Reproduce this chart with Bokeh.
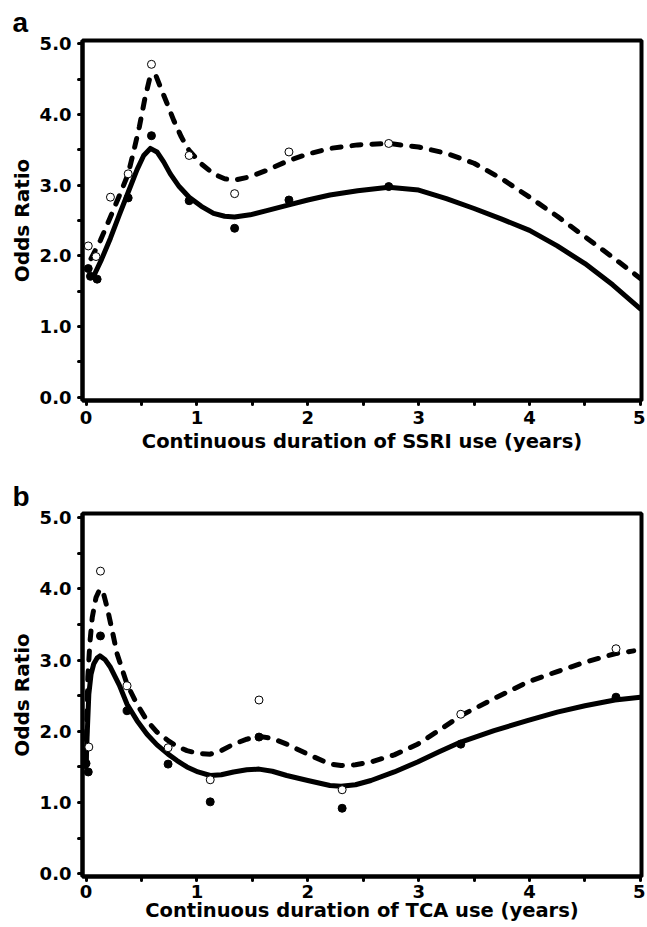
from bokeh.plotting import figure
from bokeh.layouts import column
from bokeh.models import Range1d, FixedTicker, PrintfTickFormatter, Title
from bokeh.embed import file_html
from bokeh.resources import INLINE

# ---------------- data ----------------
x_ticks = [0, 1, 2, 3, 4, 5]
x_minor = [0.5, 1.5, 2.5, 3.5, 4.5]
y_ticks = [0, 1, 2, 3, 4, 5]
y_minor = [0.5, 1.5, 2.5, 3.5, 4.5]

# Panel a: SSRI
a_open_x = [0.02, 0.09, 0.22, 0.38, 0.59, 0.93, 1.34, 1.83, 2.73]
a_open_y = [2.14, 1.99, 2.83, 3.16, 4.71, 3.42, 2.88, 3.47, 3.59]
a_fill_x = [0.02, 0.04, 0.10, 0.38, 0.59, 0.93, 1.34, 1.83, 2.73]
a_fill_y = [1.82, 1.71, 1.67, 2.82, 3.70, 2.78, 2.39, 2.79, 2.98]

a_solid_x = [0.03, 0.065, 0.14, 0.22, 0.30, 0.38, 0.46, 0.52, 0.58, 0.64, 0.70, 0.76,
             0.84, 0.93, 1.04, 1.15, 1.25, 1.34, 1.48, 1.63, 1.83, 2.0, 2.2, 2.45,
             2.73, 3.0, 3.25, 3.5, 3.75, 4.0, 4.25, 4.5, 4.75, 5.0]
a_solid_y = [1.72, 1.70, 1.95, 2.25, 2.58, 2.90, 3.22, 3.42, 3.52, 3.47, 3.33, 3.16,
             2.98, 2.83, 2.70, 2.60, 2.56, 2.55, 2.58, 2.64, 2.72, 2.79, 2.86, 2.92,
             2.97, 2.93, 2.81, 2.67, 2.52, 2.36, 2.14, 1.89, 1.59, 1.25]

a_dash_x = [0.045, 0.13, 0.22, 0.30, 0.38, 0.43, 0.48, 0.53, 0.58, 0.63, 0.67, 0.73,
            0.79, 0.86, 0.93, 1.04, 1.15, 1.25, 1.34, 1.48, 1.63, 1.83, 2.0, 2.2,
            2.45, 2.73, 3.0, 3.25, 3.5, 3.75, 4.0, 4.25, 4.5, 4.75, 5.0]
a_dash_y = [1.96, 2.22, 2.55, 2.85, 3.16, 3.48, 3.82, 4.22, 4.55, 4.55, 4.39, 4.16,
            3.92, 3.68, 3.49, 3.30, 3.16, 3.09, 3.07, 3.12, 3.21, 3.35, 3.44, 3.52,
            3.57, 3.59, 3.54, 3.45, 3.31, 3.09, 2.83, 2.56, 2.27, 1.98, 1.68]

# Panel b: TCA
b_open_x = [0.025, 0.13, 0.37, 0.74, 1.12, 1.56, 2.31, 3.38, 4.78]
b_open_y = [1.78, 4.25, 2.64, 1.77, 1.32, 2.44, 1.18, 2.24, 3.16]
b_fill_x = [0.0, 0.02, 0.13, 0.37, 0.74, 1.12, 1.56, 2.31, 3.38, 4.78]
b_fill_y = [1.55, 1.43, 3.34, 2.29, 1.54, 1.01, 1.92, 0.92, 1.82, 2.48]

b_solid_x = [0.0, 0.01, 0.025, 0.045, 0.07, 0.10, 0.125, 0.17, 0.22, 0.30, 0.37, 0.46,
             0.55, 0.64, 0.74, 0.82, 0.91, 1.01, 1.12, 1.22, 1.33, 1.45, 1.56, 1.68,
             1.81, 2.0, 2.2, 2.30, 2.43, 2.57, 2.78, 2.99, 3.18, 3.38, 3.68, 3.98,
             4.25, 4.5, 4.77, 5.0]
b_solid_y = [1.50, 1.95, 2.52, 2.80, 2.95, 3.03, 3.06, 3.01, 2.90, 2.65, 2.38, 2.15,
             1.96, 1.81, 1.68, 1.59, 1.50, 1.43, 1.38, 1.39, 1.43, 1.46, 1.47, 1.44,
             1.38, 1.31, 1.24, 1.23, 1.25, 1.31, 1.43, 1.57, 1.71, 1.85, 2.01, 2.15,
             2.27, 2.36, 2.44, 2.48]

b_dash_x = [0.0, 0.008, 0.016, 0.035, 0.056, 0.09, 0.125, 0.16, 0.19, 0.235, 0.28, 0.37,
            0.46, 0.55, 0.64, 0.74, 0.82, 0.91, 1.01, 1.12, 1.22, 1.33, 1.45, 1.56,
            1.68, 1.81, 2.0, 2.2, 2.30, 2.43, 2.57, 2.78, 2.99, 3.18, 3.38, 3.68,
            3.98, 4.25, 4.5, 4.77, 4.94]
b_dash_y = [1.60, 2.20, 2.76, 3.25, 3.60, 3.88, 4.00, 3.92, 3.74, 3.42, 3.09, 2.66,
            2.38, 2.15, 1.99, 1.87, 1.79, 1.73, 1.69, 1.68, 1.73, 1.82, 1.89, 1.93,
            1.90, 1.82, 1.68, 1.54, 1.52, 1.53, 1.57, 1.67, 1.82, 2.01, 2.22, 2.46,
            2.69, 2.84, 2.97, 3.09, 3.13]

FONT = "DejaVu Sans"


def make_panel(letter, xlabel, height, b_top, b_bottom, y_rng, tick_sd, title_sd,
               letter_sd, open_x, open_y, fill_x, fill_y,
               solid_x, solid_y, dash_x, dash_y):
    p = figure(width=645, height=height,
               x_range=Range1d(-0.032, 5.01), y_range=Range1d(*y_rng),
               output_backend="svg", toolbar_location=None,
               min_border_left=82, min_border_right=4,
               min_border_top=b_top, min_border_bottom=b_bottom)
    p.grid.visible = False
    p.outline_line_color = "black"
    p.outline_line_width = 4
    p.outline_line_alpha = 1.0
    p.background_fill_color = "white"
    p.border_fill_color = "white"

    for ax, ticks, minor in ((p.xaxis[0], x_ticks, x_minor), (p.yaxis[0], y_ticks, y_minor)):
        ax.ticker = FixedTicker(ticks=ticks, minor_ticks=minor)
        ax.axis_line_width = 4
        ax.axis_line_color = "black"
        ax.major_tick_line_width = 3
        ax.minor_tick_line_width = 3
        ax.major_tick_line_cap = "round"
        ax.minor_tick_line_cap = "round"
        ax.major_tick_in = 0
        ax.major_tick_out = 4
        ax.minor_tick_in = 0
        ax.minor_tick_out = 4
        ax.major_tick_line_color = "black"
        ax.minor_tick_line_color = "black"
        ax.major_label_text_font = FONT
        ax.major_label_text_font_style = "bold"
        ax.major_label_text_font_size = "18px"
        ax.major_label_text_color = "black"
        ax.axis_label_text_font = FONT
        ax.axis_label_text_font_style = "bold"
        ax.axis_label_text_color = "black"

    p.xaxis.axis_label_text_font_size = "19.5px"
    p.yaxis.axis_label_text_font_size = "20px"
    p.xaxis.formatter = PrintfTickFormatter(format="%d")
    p.yaxis.formatter = PrintfTickFormatter(format="%.1f")
    p.xaxis.major_label_standoff = tick_sd
    p.yaxis.major_label_standoff = 7
    p.xaxis.axis_label = xlabel
    p.yaxis.axis_label = "Odds Ratio"
    p.xaxis.axis_label_standoff = title_sd
    p.yaxis.axis_label_standoff = 3

    p.line(solid_x, solid_y, line_width=5, line_color="black",
           line_join="round", line_cap="round")
    p.line(dash_x, dash_y, line_width=5, line_color="black", line_dash="9 11",
           line_join="round", line_cap="round")
    p.scatter(fill_x, fill_y, marker="circle", size=8, fill_color="black",
              line_color="black", line_width=1)
    p.scatter(open_x, open_y, marker="circle", size=8, fill_color="white",
              line_color="black", line_width=1)

    t = Title(text=letter, align="left", text_font="Liberation Sans",
              text_font_style="bold", text_font_size="28px", text_color="black",
              offset=-70, standoff=letter_sd)
    p.add_layout(t, "above")
    return p


pa = make_panel("a", "Continuous duration of SSRI use (years)", 460, 40, 60,
                (-0.047, 5.047), 6, 3, 6,
                a_open_x, a_open_y, a_fill_x, a_fill_y,
                a_solid_x, a_solid_y, a_dash_x, a_dash_y)
pb = make_panel("b", "Continuous duration of TCA use (years)", 466, 53, 50,
                (-0.038, 5.059), 4, -2, 4,
                b_open_x, b_open_y, b_fill_x, b_fill_y,
                b_solid_x, b_solid_y, b_dash_x, b_dash_y)

layout = column(pa, pb, spacing=0)
open("out.html", "w").write(file_html(layout, INLINE))
